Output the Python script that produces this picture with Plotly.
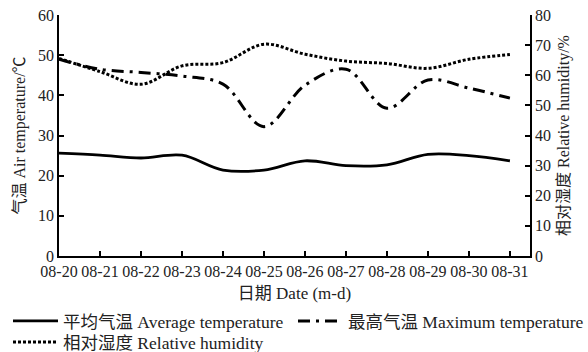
import plotly.graph_objects as go

dates = ["08-20", "08-21", "08-22", "08-23", "08-24", "08-25",
         "08-26", "08-27", "08-28", "08-29", "08-30", "08-31"]
avg_temp = [25.6, 25.1, 24.4, 25.1, 21.4, 21.4, 23.7, 22.5, 22.7, 25.3, 25.0, 23.7]
max_temp = [49.0, 46.5, 45.7, 44.8, 42.8, 32.2, 42.5, 46.5, 36.8, 43.8, 41.8, 39.3]
rel_hum = [65.6, 61.2, 57.0, 63.1, 64.2, 70.3, 67.0, 64.7, 63.9, 62.3, 65.3, 66.9]

FONT = "Liberation Serif, Noto Sans CJK SC"
TXT = "#222"
xs = list(range(len(dates)))

fig = go.Figure()
fig.add_trace(go.Scatter(x=xs, y=avg_temp, mode="lines", line_shape="spline",
                         line=dict(color="black", width=2.8),
                         name="平均气温 Average temperature", legend="legend"))
fig.add_trace(go.Scatter(x=xs, y=max_temp, mode="lines", line_shape="spline",
                         line=dict(color="black", width=3, dash="12px,6px,3px,6px"),
                         name="最高气温 Maximum temperature", legend="legend2"))
fig.add_trace(go.Scatter(x=xs, y=rel_hum, mode="lines", line_shape="spline",
                         line=dict(color="black", width=3, dash="3px,2px"),
                         name="相对湿度 Relative humidity", yaxis="y2", legend="legend3"))

W, H = 588, 352
leg_common = dict(orientation="h", xref="container", yref="container",
                  yanchor="top", xanchor="left", tracegroupgap=0, itemwidth=45,
                  font=dict(family=FONT, size=17.5, color=TXT),
                  bgcolor="rgba(0,0,0,0)", borderwidth=0)

axis_common = dict(showgrid=False, zeroline=False, showline=True, linecolor="black",
                   linewidth=1.5, ticks="inside", ticklen=5, tickcolor="black",
                   tickwidth=1.5, automargin=False,
                   tickfont=dict(family=FONT, size=16, color=TXT))

ROW1_TOP = 303
ROW2_TOP = 324
fig.update_layout(
    width=W, height=H,
    margin=dict(l=59, r=58, t=15, b=96),
    paper_bgcolor="white", plot_bgcolor="white",
    font=dict(family=FONT, size=16, color=TXT),
    showlegend=True,
    legend=dict(x=8 / W, y=1 - ROW1_TOP / H, **leg_common),
    legend2=dict(x=293 / W, y=1 - ROW1_TOP / H, **leg_common),
    legend3=dict(x=8 / W, y=1 - ROW2_TOP / H, **leg_common),
    xaxis=dict(range=[0, 11.49], tickmode="array", tickvals=xs, ticktext=dates,
               title=dict(text="日期 Date (m-d)", font=dict(family=FONT, size=17, color=TXT), standoff=12),
               **axis_common),
    yaxis=dict(range=[0, 60], dtick=10,
               title=dict(text="气温 Air temperature/℃", font=dict(family=FONT, size=16, color=TXT), standoff=8),
               **axis_common),
    yaxis2=dict(range=[0, 80], dtick=10, overlaying="y", side="right", anchor="x",
                title=dict(text="相对湿度 Relative humidity/%", font=dict(family=FONT, size=16, color=TXT), standoff=8),
                **axis_common),
)

fig.write_html("out.html")
